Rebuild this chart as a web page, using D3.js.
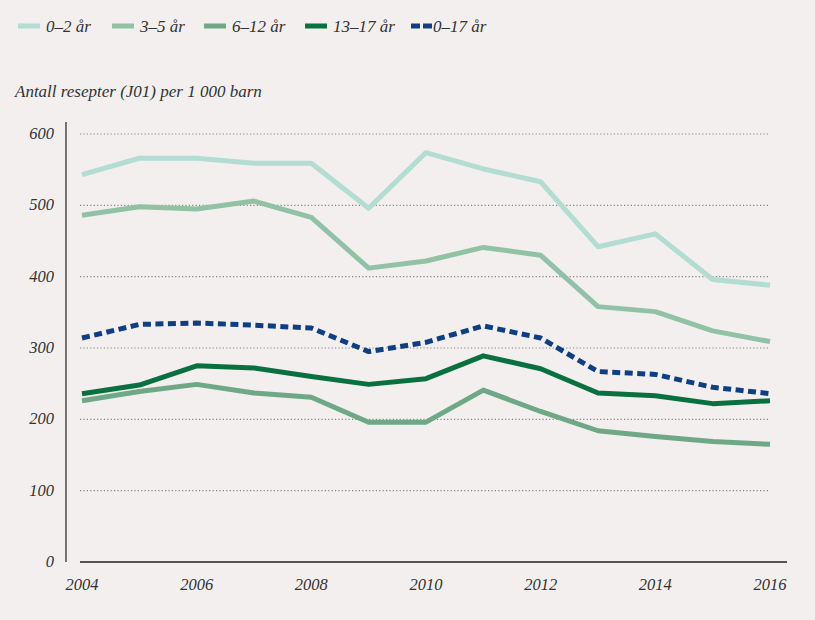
<!DOCTYPE html>
<html>
<head>
<meta charset="utf-8">
<script src="https://cdn.jsdelivr.net/npm/d3@7"></script>
<style>
  html, body { margin: 0; padding: 0; background: #f2efee; }
  svg { display: block; }
  text { font-family: "Liberation Serif", "DejaVu Serif", serif; font-style: italic; fill: #333; }
</style>
</head>
<body>
<svg id="chart" width="815" height="620"></svg>
<script>
const years = [2004, 2005, 2006, 2007, 2008, 2009, 2010, 2011, 2012, 2013, 2014, 2015, 2016];
const seriesNames = ["0–2 år", "3–5 år", "6–12 år", "13–17 år", "0–17 år"];
const age0_2   = [543, 566, 566, 559, 559, 496, 574, 551, 533, 442, 460, 396, 388];
const age3_5   = [486, 498, 495, 506, 483, 412, 422, 441, 430, 358, 351, 324, 309];
const age6_12  = [226, 239, 249, 237, 231, 196, 196, 241, 211, 184, 176, 169, 165];
const age13_17 = [236, 248, 275, 272, 260, 249, 257, 289, 271, 237, 233, 222, 226];
const age0_17  = [314, 333, 335, 332, 328, 295, 308, 331, 314, 267, 263, 245, 236];
const yTicks = [0, 100, 200, 300, 400, 500, 600];
const xTicks = [2004, 2006, 2008, 2010, 2012, 2014, 2016];
const yTitle = "Antall resepter (J01) per 1 000 barn";

const colors = ["#b3dcd2", "#91c2a6", "#6fa886", "#0b7040", "#0f3f82"];
const dashed = [false, false, false, false, true];
const values = [age0_2, age3_5, age6_12, age13_17, age0_17];

const svg = d3.select("#chart");
const x = d3.scaleLinear().domain([2004, 2016]).range([82, 770]);
const y = d3.scaleLinear().domain([0, 600]).range([562, 134]);

// Gridlines
svg.append("g").selectAll("line").data(yTicks.filter(d => d > 0)).join("line")
  .attr("x1", 80).attr("x2", 770)
  .attr("y1", d => y(d)).attr("y2", d => y(d))
  .attr("stroke", "#8a8483").attr("stroke-width", 1.2)
  .attr("stroke-dasharray", "1.2,2.2");

// Y axis line
svg.append("line").attr("x1", 66).attr("x2", 66).attr("y1", 122).attr("y2", y(0))
  .attr("stroke", "#555").attr("stroke-width", 1.6);
// Baseline
svg.append("line").attr("x1", 80).attr("x2", 787).attr("y1", y(0)).attr("y2", y(0))
  .attr("stroke", "#222").attr("stroke-width", 1.6);

// Y tick labels
svg.append("g").selectAll("text").data(yTicks).join("text")
  .attr("x", 54).attr("y", d => y(d) + 5)
  .attr("text-anchor", "end").attr("font-size", 16.5)
  .text(d => d);

// X tick labels
svg.append("g").selectAll("text").data(xTicks).join("text")
  .attr("x", d => x(d)).attr("y", 590)
  .attr("text-anchor", "middle").attr("font-size", 16.5)
  .text(d => d);

// Y title
svg.append("text").attr("x", 15).attr("y", 97).attr("font-size", 17).text(yTitle);

// Lines
const line = d3.line().x((d, i) => x(years[i])).y(d => y(d));
values.forEach((vals, k) => {
  svg.append("path").datum(vals)
    .attr("d", line)
    .attr("fill", "none")
    .attr("stroke", colors[k])
    .attr("stroke-width", 5)
    .attr("stroke-linejoin", "round")
    .attr("stroke-dasharray", dashed[k] ? "8,4.5" : null);
});

// Legend
const legendX = [18, 112, 204, 305, 411];
const lg = svg.append("g");
seriesNames.forEach((name, k) => {
  lg.append("line")
    .attr("x1", legendX[k]).attr("x2", legendX[k] + 22)
    .attr("y1", 26).attr("y2", 26)
    .attr("stroke", colors[k]).attr("stroke-width", 5)
    .attr("stroke-dasharray", dashed[k] ? "9,3" : null);
  lg.append("text")
    .attr("x", legendX[k] + (dashed[k] ? 22 : 28)).attr("y", 32)
    .attr("font-size", 17)
    .text(name);
});
</script>
</body>
</html>
